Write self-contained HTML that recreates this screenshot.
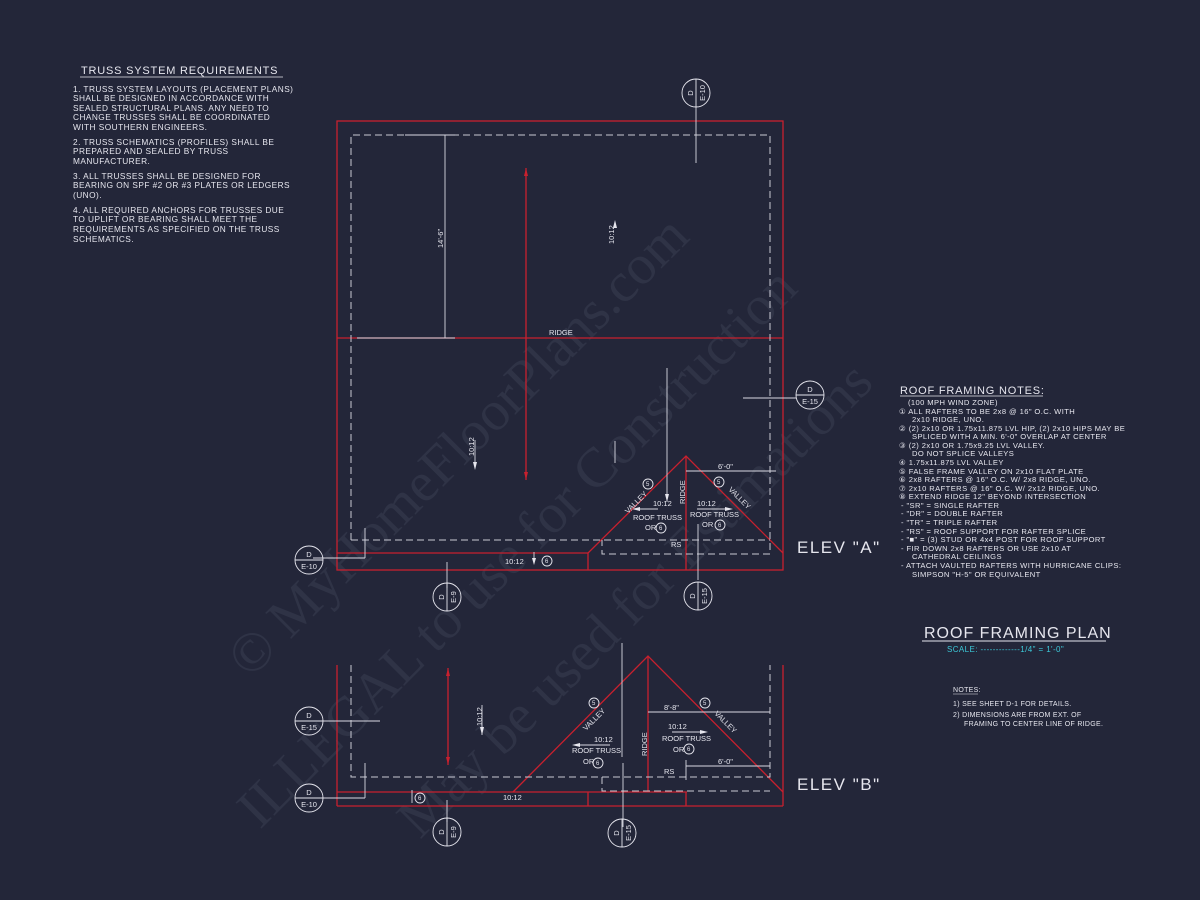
<!DOCTYPE html>
<html><head><meta charset="utf-8"><style>
html,body{margin:0;padding:0;background:#232639;}
svg{display:block}
text{font-family:"Liberation Sans",sans-serif;fill:#e6e6ee;}
</style></head><body>
<svg width="1200" height="900" viewBox="0 0 1200 900" xmlns="http://www.w3.org/2000/svg">
<rect width="1200" height="900" fill="#232639"/>

<!-- watermark -->
<g>
<text x="0" y="0" font-size="56" transform="translate(250,680) rotate(-45)" style="fill:#2f3346;font-family:'Liberation Serif',serif">© MyHomeFloorPlans.com</text>
<text x="0" y="0" font-size="56" transform="translate(260,830) rotate(-45)" style="fill:#2f3346;font-family:'Liberation Serif',serif">ILLEGAL to use for Construction</text>
<text x="0" y="0" font-size="56" transform="translate(420,840) rotate(-45)" style="fill:#2f3346;font-family:'Liberation Serif',serif">May be used for Estimations</text>
</g>

<!-- Truss notes -->
<g font-size="8.3" letter-spacing="0.45">
<text x="81" y="74" font-size="11" letter-spacing="0.8">TRUSS SYSTEM REQUIREMENTS</text>
<line x1="80" y1="77" x2="283" y2="77" stroke="#e6e6ee" stroke-width="0.8"/>
<text x="73" y="92">1. TRUSS SYSTEM LAYOUTS (PLACEMENT PLANS)</text>
<text x="73" y="101">SHALL BE DESIGNED IN ACCORDANCE WITH</text>
<text x="73" y="111">SEALED STRUCTURAL PLANS. ANY NEED TO</text>
<text x="73" y="120">CHANGE TRUSSES SHALL BE COORDINATED</text>
<text x="73" y="130">WITH SOUTHERN ENGINEERS.</text>
<text x="73" y="145">2. TRUSS SCHEMATICS (PROFILES) SHALL BE</text>
<text x="73" y="154">PREPARED AND SEALED BY TRUSS</text>
<text x="73" y="164">MANUFACTURER.</text>
<text x="73" y="179">3. ALL TRUSSES SHALL BE DESIGNED FOR</text>
<text x="73" y="188">BEARING ON SPF #2 OR #3 PLATES OR LEDGERS</text>
<text x="73" y="198">(UNO).</text>
<text x="73" y="213">4. ALL REQUIRED ANCHORS FOR TRUSSES DUE</text>
<text x="73" y="222">TO UPLIFT OR BEARING SHALL MEET THE</text>
<text x="73" y="232">REQUIREMENTS AS SPECIFIED ON THE TRUSS</text>
<text x="73" y="242">SCHEMATICS.</text>
</g>

<!-- TOP PLAN -->
<g fill="none" stroke="#c8202e" stroke-width="1.3">
<rect x="337" y="121" width="446" height="449"/>
<line x1="337" y1="338" x2="783" y2="338"/>
<line x1="337" y1="553" x2="588" y2="553"/>
<polyline points="588,570 588,553 686,456 783,553"/>
<line x1="686" y1="456" x2="686" y2="570"/>
<line x1="526" y1="168" x2="526" y2="480"/>
</g>
<g fill="none" stroke="#c9cad4" stroke-width="1" stroke-dasharray="7,4">
<polyline points="351,540 351,135 770,135 770,554 602,554 602,540"/>
<line x1="351" y1="540" x2="770" y2="540"/>
</g>
<g stroke="#d8d8e2" stroke-width="0.9" fill="none">
<line x1="445" y1="135" x2="445" y2="338"/>
<line x1="357" y1="338" x2="455" y2="338"/>
<line x1="405" y1="135" x2="455" y2="135"/>
<line x1="696" y1="107" x2="696" y2="163"/>
<line x1="667" y1="368" x2="667" y2="502"/>
<line x1="686" y1="471" x2="776" y2="471"/>
<line x1="698" y1="524" x2="698" y2="580"/>
<line x1="447" y1="562" x2="447" y2="588"/>
<line x1="313" y1="558" x2="365" y2="558"/>
<line x1="365" y1="558" x2="365" y2="528"/>
<line x1="743" y1="398" x2="796" y2="398"/>
<line x1="615" y1="441" x2="615" y2="463"/>
<line x1="475" y1="440" x2="475" y2="468"/>
<line x1="640" y1="509" x2="658" y2="509"/>
<line x1="697" y1="509" x2="725" y2="509"/>
<line x1="534" y1="552" x2="534" y2="560"/>
</g>
<g fill="#e6e6ee">
<polygon points="613,228 615,220 617,228"/>
<polygon points="473,462 475,470 477,462"/>
<polygon points="632,509 640,507 640,511"/>
<polygon points="733,509 725,507 725,511"/>
<polygon points="665,494 667,502 669,494"/>
<polygon points="532,558 534,565 536,558"/>
<polygon points="524,176 526,168 528,176" fill="#c8202e"/>
<polygon points="524,472 526,480 528,472" fill="#c8202e"/>
</g>
<g font-size="7.5">
<text x="0" y="0" transform="translate(443,248) rotate(-90)">14'-6"</text>
<text x="0" y="0" transform="translate(614,244) rotate(-90)">10:12</text>
<text x="0" y="0" transform="translate(474,456) rotate(-90)">10:12</text>
<text x="549" y="335">RIDGE</text>
<text x="718" y="469">6'-0"</text>
<text x="653" y="506">10:12</text>
<text x="697" y="506">10:12</text>
<text x="633" y="520">ROOF TRUSS</text>
<text x="690" y="517">ROOF TRUSS</text>
<text x="645" y="530">OR</text>
<text x="702" y="527">OR</text>
<text x="671" y="547">RS</text>
<text x="505" y="564">10:12</text>
<text x="0" y="0" transform="translate(685,504) rotate(-90)">RIDGE</text>
<text x="0" y="0" transform="translate(628,514) rotate(-45)">VALLEY</text>
<text x="0" y="0" transform="translate(728,490) rotate(45)">VALLEY</text>
</g>
<g fill="none" stroke="#e6e6ee" stroke-width="0.9">
<circle cx="648" cy="484" r="5"/><circle cx="661" cy="528" r="5"/><circle cx="547" cy="561" r="5"/>
<circle cx="720" cy="525" r="5"/><circle cx="719" cy="482" r="5"/>
</g>
<g font-size="6">
<text x="646" y="486">5</text><text x="659" y="530">6</text><text x="545" y="563">6</text>
<text x="718" y="527">6</text><text x="717" y="484">5</text>
</g>
<text x="797" y="553" font-size="17" letter-spacing="1.5">ELEV "A"</text>

<!-- BOTTOM ELEVATION -->
<g fill="none" stroke="#c8202e" stroke-width="1.3">
<line x1="337" y1="665" x2="337" y2="806"/>
<line x1="783" y1="665" x2="783" y2="806"/>
<line x1="337" y1="806" x2="783" y2="806"/>
<line x1="337" y1="792" x2="687" y2="792"/>
<polyline points="513,792 648,656 783,792"/>
<line x1="648" y1="656" x2="648" y2="792"/>
<line x1="588" y1="792" x2="588" y2="806"/>
<line x1="686" y1="792" x2="686" y2="806"/>
<line x1="448" y1="668" x2="448" y2="765"/>
</g>
<g fill="none" stroke="#c9cad4" stroke-width="1" stroke-dasharray="7,4">
<polyline points="351,665 351,777 770,777 770,665"/>
<polyline points="602,777 602,791 770,791"/>
</g>
<g stroke="#d8d8e2" stroke-width="0.9" fill="none">
<line x1="313" y1="721" x2="380" y2="721"/>
<line x1="313" y1="798" x2="365" y2="798"/>
<line x1="365" y1="798" x2="365" y2="763"/>
<line x1="447" y1="800" x2="447" y2="822"/>
<line x1="622" y1="643" x2="622" y2="757"/>
<line x1="623" y1="763" x2="623" y2="827"/>
<line x1="648" y1="712" x2="770" y2="712"/>
<line x1="686" y1="766" x2="770" y2="766"/>
<line x1="686" y1="760" x2="686" y2="780"/>
<line x1="482" y1="705" x2="482" y2="735"/>
<line x1="580" y1="745" x2="610" y2="745"/>
<line x1="672" y1="732" x2="700" y2="732"/>
<line x1="412" y1="790" x2="412" y2="803"/>
</g>
<g fill="#e6e6ee">
<polygon points="480,727 482,735 484,727"/>
<polygon points="572,745 580,743 580,747"/>
<polygon points="708,732 700,730 700,734"/>
<polygon points="446,676 448,668 450,676" fill="#c8202e"/>
<polygon points="446,757 448,765 450,757" fill="#c8202e"/>
</g>
<g font-size="7.5">
<text x="0" y="0" transform="translate(482,726) rotate(-90)">10:12</text>
<text x="0" y="0" transform="translate(586,731) rotate(-45)">VALLEY</text>
<text x="0" y="0" transform="translate(714,714) rotate(45)">VALLEY</text>
<text x="594" y="742">10:12</text>
<text x="572" y="753">ROOF TRUSS</text>
<text x="583" y="764">OR</text>
<text x="0" y="0" transform="translate(647,756) rotate(-90)">RIDGE</text>
<text x="664" y="710">8'-8"</text>
<text x="668" y="729">10:12</text>
<text x="662" y="741">ROOF TRUSS</text>
<text x="673" y="752">OR</text>
<text x="664" y="774">RS</text>
<text x="718" y="764">6'-0"</text>
<text x="503" y="800">10:12</text>
</g>
<g fill="none" stroke="#e6e6ee" stroke-width="0.9">
<circle cx="594" cy="703" r="5"/><circle cx="705" cy="703" r="5"/>
<circle cx="598" cy="763" r="5"/><circle cx="689" cy="749" r="5"/>
<circle cx="420" cy="798" r="5"/>
</g>
<g font-size="6">
<text x="592" y="705">5</text><text x="703" y="705">5</text><text x="596" y="765">6</text>
<text x="687" y="751">6</text><text x="418" y="800">6</text>
</g>
<text x="797" y="790" font-size="17" letter-spacing="1.5">ELEV "B"</text>

<!-- section markers -->
<g fill="none" stroke="#e6e6ee" stroke-width="0.9">
<circle cx="696" cy="93" r="14"/><line x1="696" y1="79" x2="696" y2="107"/>
<circle cx="810" cy="395" r="14"/><line x1="796" y1="395" x2="824" y2="395"/>
<circle cx="309" cy="560" r="14"/><line x1="295" y1="560" x2="323" y2="560"/>
<circle cx="447" cy="597" r="14"/><line x1="447" y1="583" x2="447" y2="611"/>
<circle cx="698" cy="596" r="14"/><line x1="698" y1="582" x2="698" y2="610"/>
<circle cx="309" cy="721" r="14"/><line x1="295" y1="721" x2="323" y2="721"/>
<circle cx="309" cy="798" r="14"/><line x1="295" y1="798" x2="323" y2="798"/>
<circle cx="447" cy="832" r="14"/><line x1="447" y1="818" x2="447" y2="846"/>
<circle cx="622" cy="833" r="14"/><line x1="622" y1="819" x2="622" y2="847"/>
</g>
<g font-size="7.5" text-anchor="middle">
<text x="810" y="392">D</text><text x="810" y="404">E-15</text>
<text x="309" y="557">D</text><text x="309" y="569">E-10</text>
<text x="309" y="718">D</text><text x="309" y="730">E-15</text>
<text x="309" y="795">D</text><text x="309" y="807">E-10</text>
<text transform="translate(693,93) rotate(-90)">D</text><text transform="translate(705,93) rotate(-90)">E-10</text>
<text transform="translate(444,597) rotate(-90)">D</text><text transform="translate(456,597) rotate(-90)">E-9</text>
<text transform="translate(695,596) rotate(-90)">D</text><text transform="translate(707,596) rotate(-90)">E-15</text>
<text transform="translate(444,832) rotate(-90)">D</text><text transform="translate(456,832) rotate(-90)">E-9</text>
<text transform="translate(619,833) rotate(-90)">D</text><text transform="translate(631,833) rotate(-90)">E-15</text>
</g>

<!-- Roof framing notes -->
<g font-size="7.6" letter-spacing="0.4">
<text x="900" y="394" font-size="11" letter-spacing="0.8">ROOF FRAMING NOTES:</text>
<line x1="900" y1="396" x2="1043" y2="396" stroke="#e6e6ee" stroke-width="0.8"/>
<text x="908" y="405">(100 MPH WIND ZONE)</text>
<text x="899" y="414">①  ALL RAFTERS TO BE 2x8 @ 16" O.C. WITH</text>
<text x="912" y="422">2x10 RIDGE, UNO.</text>
<text x="899" y="431">②  (2) 2x10 OR 1.75x11.875 LVL HIP, (2) 2x10 HIPS MAY BE</text>
<text x="912" y="439">SPLICED WITH A MIN. 6'-0" OVERLAP AT CENTER</text>
<text x="899" y="448">③  (2) 2x10 OR 1.75x9.25 LVL VALLEY.</text>
<text x="912" y="456">DO NOT SPLICE VALLEYS</text>
<text x="899" y="465">④  1.75x11.875 LVL VALLEY</text>
<text x="899" y="474">⑤  FALSE FRAME VALLEY ON 2x10 FLAT PLATE</text>
<text x="899" y="482">⑥  2x8 RAFTERS @ 16" O.C. W/ 2x8 RIDGE, UNO.</text>
<text x="899" y="491">⑦  2x10 RAFTERS @ 16" O.C. W/ 2x12 RIDGE, UNO.</text>
<text x="899" y="499">⑧  EXTEND RIDGE 12" BEYOND INTERSECTION</text>
<text x="901" y="508">-   "SR" = SINGLE RAFTER</text>
<text x="901" y="516">-   "DR" = DOUBLE RAFTER</text>
<text x="901" y="525">-   "TR" = TRIPLE RAFTER</text>
<text x="901" y="534">-   "RS" = ROOF SUPPORT FOR RAFTER SPLICE</text>
<text x="901" y="542">-   "■"   = (3) STUD OR 4x4 POST FOR ROOF SUPPORT</text>
<text x="901" y="551">-   FIR DOWN 2x8 RAFTERS OR USE 2x10 AT</text>
<text x="912" y="559">CATHEDRAL CEILINGS</text>
<text x="901" y="568">-   ATTACH VAULTED RAFTERS WITH HURRICANE CLIPS:</text>
<text x="912" y="577">SIMPSON "H-5" OR EQUIVALENT</text>
</g>

<text x="924" y="638" font-size="16" letter-spacing="1">ROOF FRAMING PLAN</text>
<line x1="922" y1="641" x2="1106" y2="641" stroke="#e6e6ee" stroke-width="0.9"/>
<text x="947" y="652" font-size="8" letter-spacing="0.4" style="fill:#3cc8d8">SCALE: -------------1/4" = 1'-0"</text>
<g font-size="7" letter-spacing="0.3">
<text x="953" y="692">NOTES:</text>
<line x1="953" y1="694" x2="978" y2="694" stroke="#e6e6ee" stroke-width="0.6"/>
<text x="953" y="706">1)  SEE SHEET D-1 FOR DETAILS.</text>
<text x="953" y="717">2)  DIMENSIONS ARE FROM EXT. OF</text>
<text x="964" y="726">FRAMING TO CENTER LINE OF RIDGE.</text>
</g>
</svg>
</body></html>
